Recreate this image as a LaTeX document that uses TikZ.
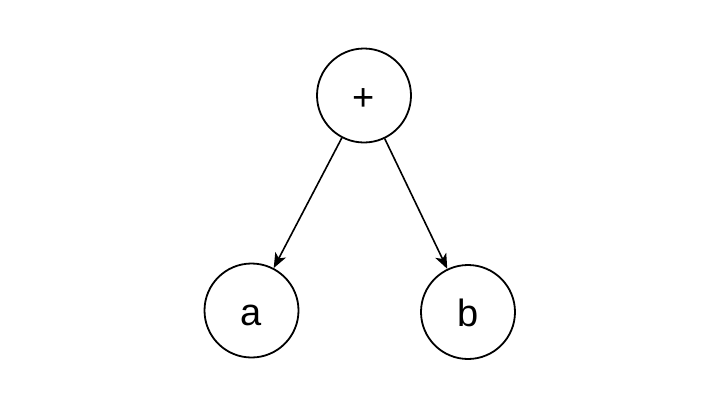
\documentclass[tikz,border=0pt]{standalone}
\usepackage{fontspec}
\setmainfont{Liberation Sans}
\usetikzlibrary{arrows.meta}
\begin{document}
\begin{tikzpicture}[x=1pt,y=-1pt,
  opnode/.style={circle,draw,line width=1.8pt,minimum size=94pt,inner sep=0pt,text height=29pt,text depth=0pt,font=\fontsize{38}{44}\selectfont},
  edge/.style={line width=1.6pt,-{Stealth[length=15pt,width=12pt,inset=4pt]}}]
\useasboundingbox (0,0) rectangle (720,400);
\node[opnode] (plus) at (364,95.5) {+};
\node[opnode] (a) at (251.5,310.5) {a};
\node[opnode] (b) at (468,312) {b};
\draw[edge] (plus) -- (a);
\draw[edge] (plus) -- (b);
\end{tikzpicture}
\end{document}
